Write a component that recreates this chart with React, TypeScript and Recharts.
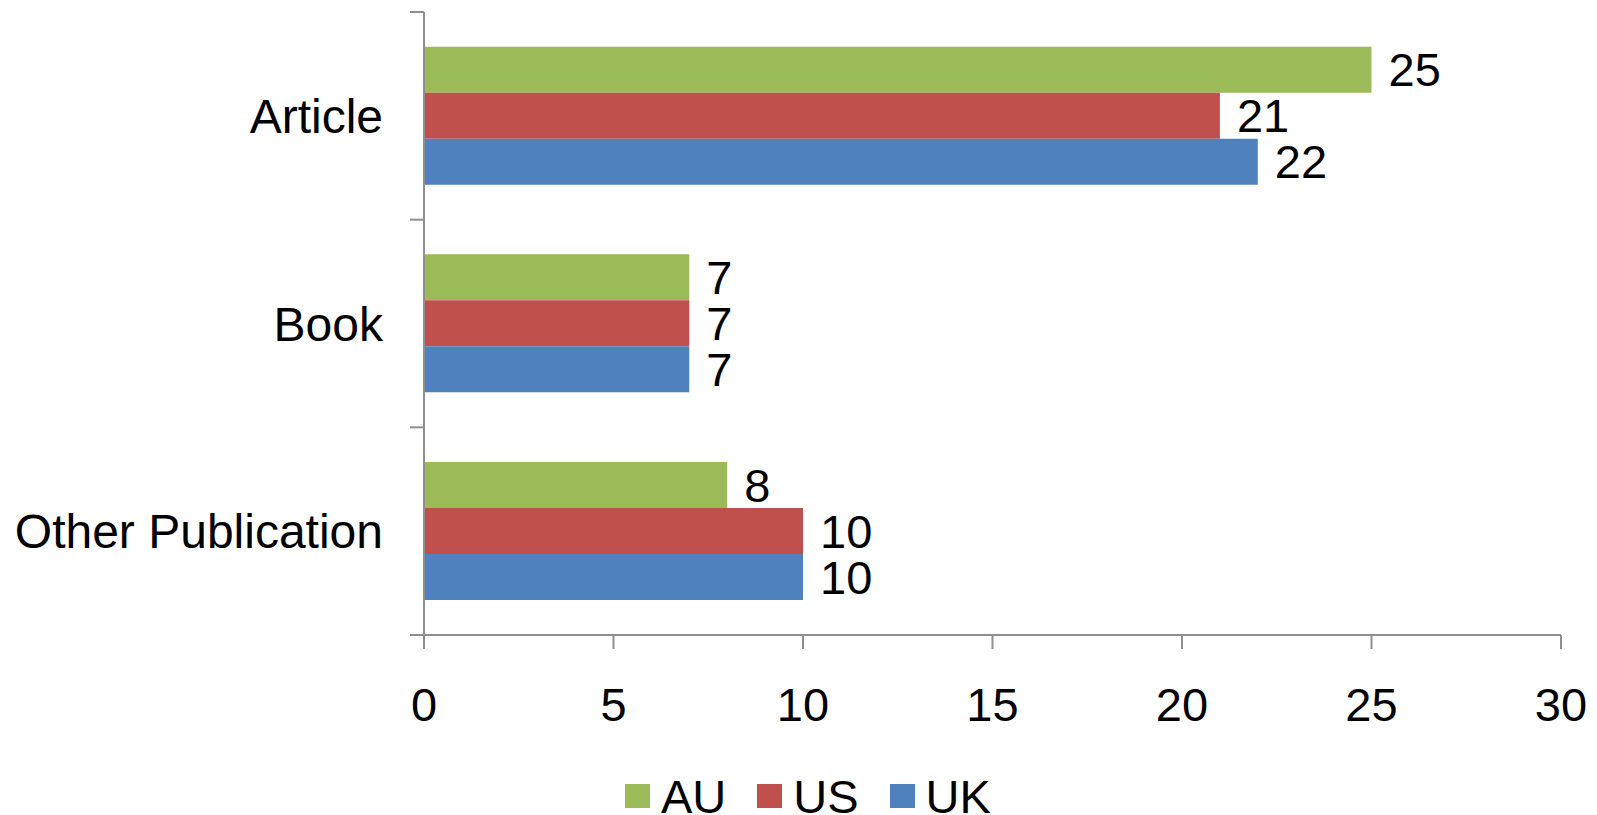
import React from 'react';
import { BarChart, Bar, XAxis, YAxis, LabelList } from 'recharts';

const categories = ['Article', 'Book', 'Other Publication'];
const auValues = [25, 7, 8];
const usValues = [21, 7, 10];
const ukValues = [22, 7, 10];
const xTicks = [0, 5, 10, 15, 20, 25, 30];

const series = [
  { key: 'AU', color: '#9BBB59' },
  { key: 'US', color: '#C0504D' },
  { key: 'UK', color: '#4F81BD' },
];

const data = categories.map((name, i) => ({
  name,
  AU: auValues[i],
  US: usValues[i],
  UK: ukValues[i],
}));

const WIDTH = 1597;
const HEIGHT = 815;
const FONT = 47;
const AXIS = '#8f8f8f';

// category ticks sit on band edges, the label sits in the middle
const CategoryTick = (props: any) => {
  const { x, y, payload, index, visibleTicksCount } = props;
  const half = payload && payload.offset ? payload.offset : 623 / 6;
  const axisX = x + 41;
  return (
    <g>
      <line x1={axisX - 14} x2={axisX} y1={y - half} y2={y - half} stroke={AXIS} strokeWidth={2} />
      {index === visibleTicksCount - 1 && (
        <line x1={axisX - 14} x2={axisX} y1={y + half} y2={y + half} stroke={AXIS} strokeWidth={2} />
      )}
      <text x={x} y={y} textAnchor="end" dy="0.355em" fontSize={48} fill="#000">
        {payload.value}
      </text>
    </g>
  );
};

export default function App() {
  return (
    <div
      style={{
        position: 'absolute',
        left: 0,
        top: 0,
        width: WIDTH,
        height: HEIGHT,
        background: '#fff',
        fontFamily: '"Liberation Sans", Arial, sans-serif',
        overflow: 'hidden',
      }}
    >
      <BarChart
        width={WIDTH}
        height={HEIGHT}
        data={data}
        layout="vertical"
        margin={{ top: 12, right: 36, bottom: 80, left: 0 }}
        barCategoryGap="16.7%"
        barGap={0}
      >
        <XAxis
          type="number"
          domain={[0, 30]}
          ticks={xTicks}
          tickSize={14}
          tickMargin={39}
          height={100}
          axisLine={{ stroke: AXIS, strokeWidth: 2 }}
          tickLine={{ stroke: AXIS, strokeWidth: 2 }}
          tick={{ fontSize: FONT, fill: '#000' }}
        />
        <YAxis
          type="category"
          dataKey="name"
          width={424}
          tickSize={14}
          tickMargin={27}
          tickLine={false}
          axisLine={{ stroke: AXIS, strokeWidth: 2 }}
          tick={<CategoryTick />}
          interval={0}
        />
        {series.map((s) => (
          <Bar key={s.key} dataKey={s.key} fill={s.color} isAnimationActive={false}>
            <LabelList dataKey={s.key} position="right" offset={17} fontSize={FONT} fill="#000" />
          </Bar>
        ))}
      </BarChart>
      <div
        style={{
          position: 'absolute',
          left: 625,
          top: 784,
          display: 'flex',
          alignItems: 'center',
          height: 24,
        }}
      >
        {series.map((s) => (
          <div key={s.key} style={{ display: 'flex', alignItems: 'center', marginRight: 31 }}>
            <div style={{ width: 25, height: 24, background: s.color, marginRight: 11 }} />
            <span style={{ fontSize: FONT, lineHeight: 1, color: '#000' }}>{s.key}</span>
          </div>
        ))}
      </div>
    </div>
  );
}
